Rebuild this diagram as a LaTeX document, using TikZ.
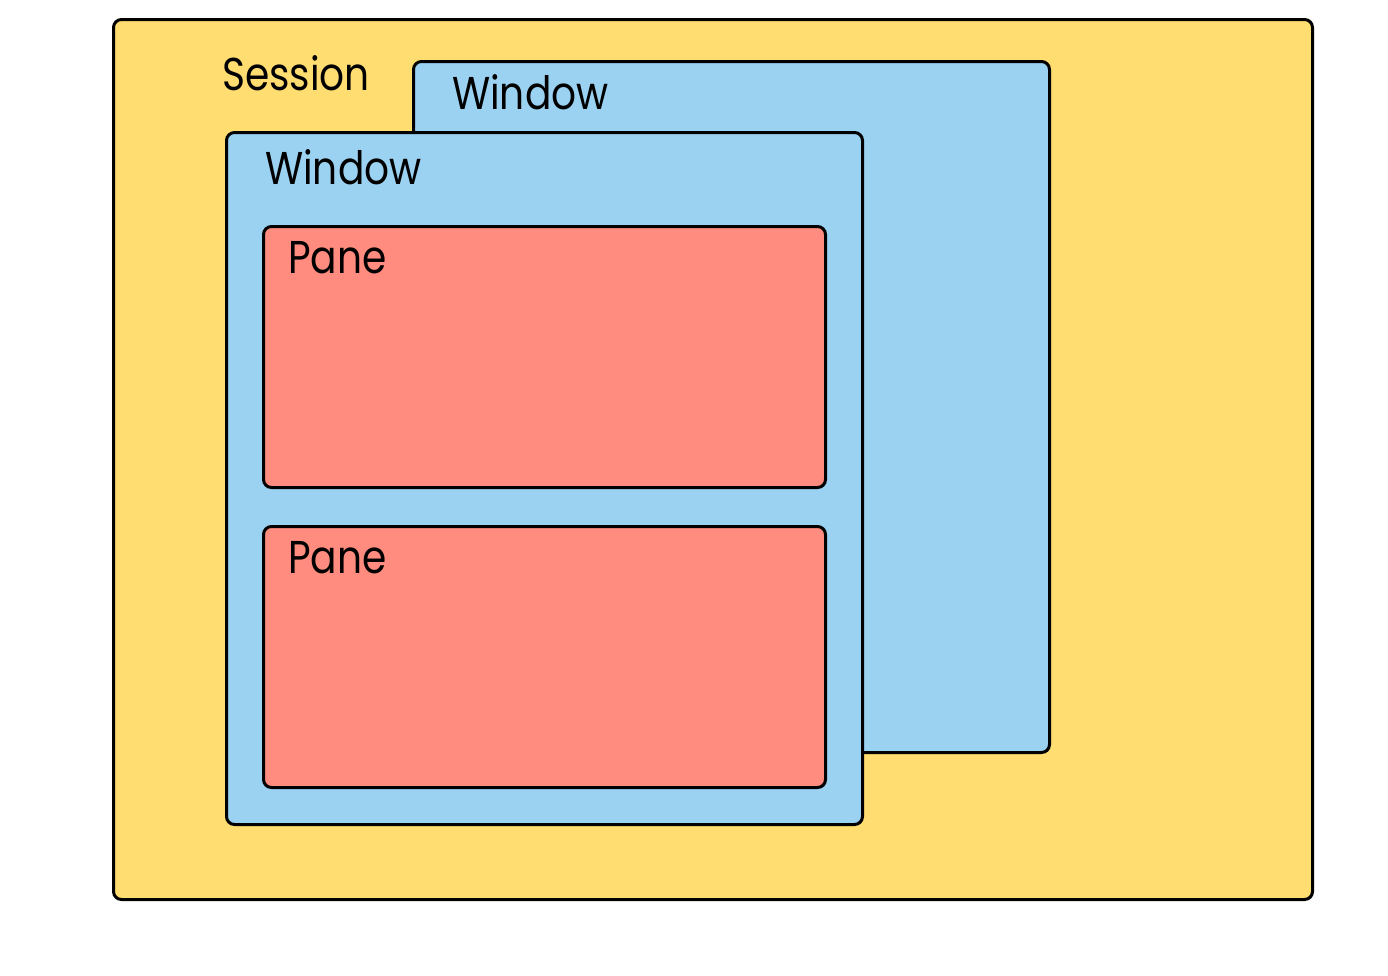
\documentclass[tikz,border=0pt]{standalone}
\usepackage{fontspec}
\setmainfont{Poppins}[FakeStretch=0.85]
\begin{document}
\begin{tikzpicture}[x=1pt,y=-1pt,
  box/.style={draw=black,line width=3pt,rounded corners=8pt,anchor=north west,inner sep=0pt},
  sessionbox/.style={box,fill=sessionfill},
  windowbox/.style={box,fill=windowfill},
  panebox/.style={box,fill=panefill},
  label/.style={anchor=base west,inner sep=0pt,font=\fontsize{46}{50}\selectfont}]
\definecolor{sessionfill}{HTML}{FFDD71}
\definecolor{windowfill}{HTML}{9BD2F2}
\definecolor{panefill}{HTML}{FF8C7E}
\useasboundingbox (0,0) rectangle (1388,975);
% outer session frame
\node[sessionbox,minimum width=1199pt,minimum height=880pt] (session) at (112,18) {};
\node[label] (sessiont) at (222,90) {Session};
% window behind
\node[windowbox,minimum width=636pt,minimum height=691pt] (winback) at (412,60) {};
\node[label] (winbackt) at (452,109) {Window};
% window in front, holding two panes
\node[windowbox,minimum width=636pt,minimum height=692pt] (winfront) at (225,131) {};
\node[label] (winfrontt) at (265,184) {Window};
\node[panebox,minimum width=562pt,minimum height=261pt] (paneA) at (262,225) {};
\node[label] (paneAt) at (288,273) {Pane};
\node[panebox,minimum width=562pt,minimum height=261pt] (paneB) at (262,525) {};
\node[label] (paneBt) at (288,573) {Pane};
\end{tikzpicture}
\end{document}
